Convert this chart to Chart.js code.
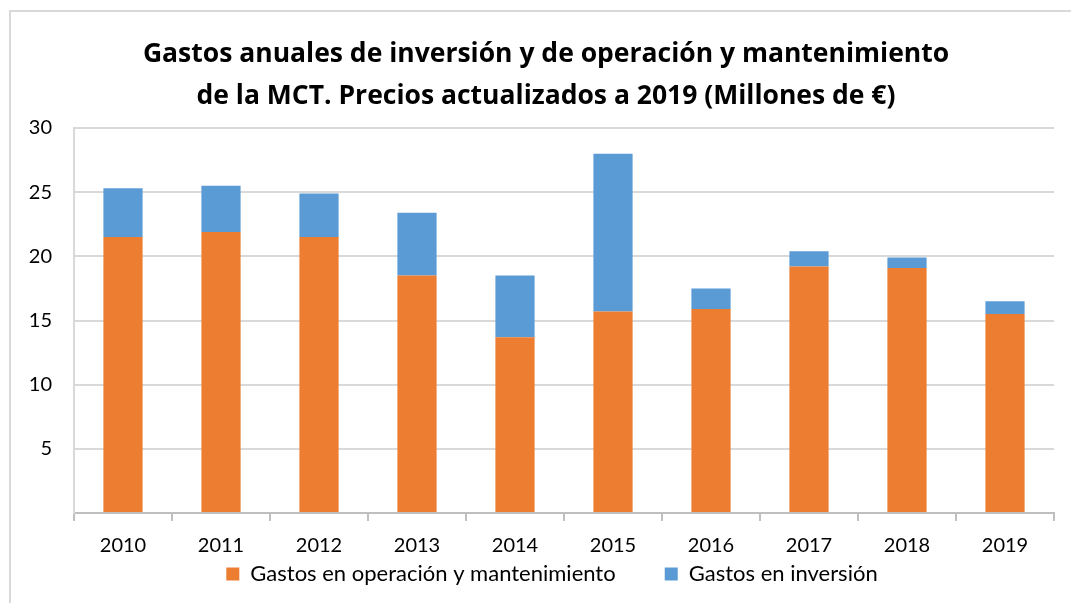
<!DOCTYPE html>
<html>
<head>
<meta charset="utf-8">
<script src="https://cdn.jsdelivr.net/npm/chart.js@4.4.0/dist/chart.umd.min.js"></script>
<style>
  html, body { margin: 0; padding: 0; background: #fff; overflow: hidden; }
  #wrap { position: relative; width: 1071px; height: 603px; }
  #frame { position: absolute; left: 9px; top: 10px; width: 1100px; height: 700px; border: 2px solid #d9d9d9; box-sizing: border-box; }
  canvas { position: absolute; left: 0; top: 0; }
</style>
</head>
<body>
<div id="wrap">
  <div id="frame"></div>
  <canvas id="chart" width="1071" height="603"></canvas>
</div>
<script>
// years on the x axis
const years = ['2010', '2011', '2012', '2013', '2014', '2015', '2016', '2017', '2018', '2019'];
// millions of euros
const operacion = [21.5, 21.9, 21.5, 18.5, 13.7, 15.7, 15.9, 19.2, 19.1, 15.5];
const inversion = [3.8, 3.6, 3.4, 4.9, 4.8, 12.3, 1.6, 1.2, 0.8, 1.0];
const yTicks = [0, 5, 10, 15, 20, 25, 30];

const FONT = 'Lato, "Open Sans", sans-serif';

// title and legend sit a bit right of the canvas centre in the original
const nudgeBoxes = {
  id: 'nudgeBoxes',
  afterLayout(chart) {
    if (chart.titleBlock) { chart.titleBlock.left += 14; chart.titleBlock.right += 14; }
    if (chart.legend) { chart.legend.left += 20; chart.legend.right += 20; }
  }
};

const ctx = document.getElementById('chart').getContext('2d');
new Chart(ctx, {
  type: 'bar',
  data: {
    labels: years,
    datasets: [
      {
        label: 'Gastos en operación y mantenimiento',
        data: operacion,
        backgroundColor: '#ED7D31',
        borderWidth: 0
      },
      {
        label: 'Gastos en inversión',
        data: inversion,
        backgroundColor: '#5B9BD5',
        borderWidth: 0
      }
    ]
  },
  plugins: [nudgeBoxes],
  options: {
    responsive: false,
    animation: false,
    layout: { padding: { left: 10, right: 17, top: 33, bottom: 8 } },
    datasets: { bar: { categoryPercentage: 1, barPercentage: 0.4 } },
    plugins: {
      tooltip: { enabled: false },
      title: {
        display: true,
        text: ['Gastos anuales de inversión y de operación y mantenimiento',
               'de la MCT. Precios actualizados a 2019 (Millones de €)'],
        color: '#000',
        font: { family: '"Open Sans", sans-serif', size: 26.5, weight: 'bold', lineHeight: 1.585 },
        padding: { top: 0, bottom: 11 }
      },
      legend: {
        position: 'bottom',
        labels: {
          color: '#000',
          font: { family: FONT, size: 22 },
          boxWidth: 13,
          boxHeight: 13,
          padding: 4,
          // Excel leaves a wider gap between the two entries
          generateLabels: chart => {
            const items = Chart.defaults.plugins.legend.labels.generateLabels(chart);
            items[0].text += ' '.repeat(8);
            return items;
          }
        }
      }
    },
    scales: {
      x: {
        stacked: true,
        afterFit: axis => { axis.height = 46; },
        grid: { display: true, drawOnChartArea: false, offset: true, tickLength: 8, color: '#bfbfbf', lineWidth: 2 },
        border: { color: '#bfbfbf', width: 2 },
        ticks: { color: '#000', font: { family: FONT, size: 20 }, padding: 13 }
      },
      y: {
        stacked: true,
        min: 0,
        max: 30,
        afterBuildTicks: axis => { axis.ticks = yTicks.map(v => ({ value: v })); },
        afterFit: axis => { axis.width = 64; },
        grid: { color: '#d9d9d9', lineWidth: 2, drawTicks: false },
        border: { display: true, color: '#d9d9d9', width: 2 },
        ticks: {
          color: '#000',
          font: { family: FONT, size: 20 },
          padding: 22,
          callback: v => (v === 0 ? '' : v)
        }
      }
    }
  }
});
</script>
</body>
</html>
